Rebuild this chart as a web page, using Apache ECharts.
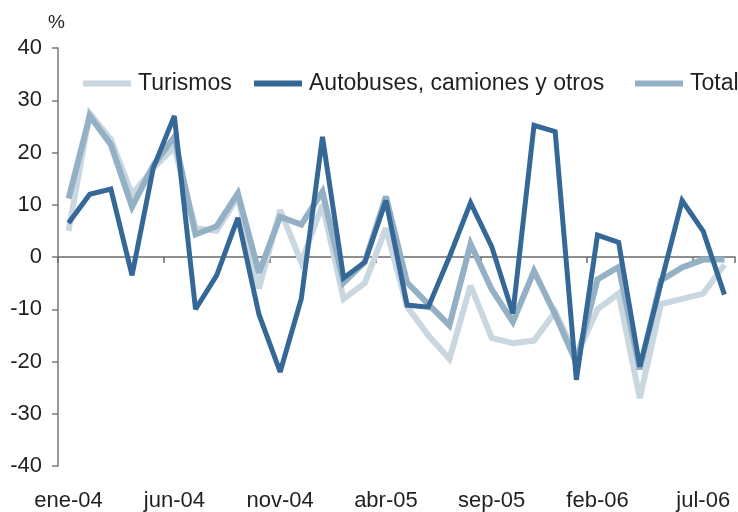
<!DOCTYPE html>
<html>
<head>
<meta charset="utf-8">
<script src="https://cdn.jsdelivr.net/npm/echarts@6/dist/echarts.min.js"></script>
<style>
  html, body { margin: 0; padding: 0; background: #fff; }
  #chart { width: 738px; height: 512px; }
</style>
</head>
<body>
<div id="chart"></div>
<script>
// Monthly categories, ene-04 .. ago-06
const months = [
  'ene-04','feb-04','mar-04','abr-04','may-04','jun-04','jul-04','ago-04','sep-04','oct-04','nov-04','dic-04',
  'ene-05','feb-05','mar-05','abr-05','may-05','jun-05','jul-05','ago-05','sep-05','oct-05','nov-05','dic-05',
  'ene-06','feb-06','mar-06','abr-06','may-06','jun-06','jul-06','ago-06'
];

// Year-on-year change, %
const turismos = [
  5, 27.5, 22.5, 12, 17, 21, 5.5, 5, 11.5, -6, 9, -1,
  10, -8, -5, 5.5, -9.5, -15, -19.5, -5.5, -15.5, -16.5, -16, -10.5,
  -19, -10, -7, -27, -9, -8, -7, -1.5
];
const autobuses = [
  6.5, 12, 13, -3.5, 17, 27, -10, -3.5, 7.5, -11, -22, -8,
  23, -4, -1, 10.8, -9.2, -9.6, 0, 10.4, 2, -10.8, 25.2, 24,
  -23.5, 4.2, 2.8, -21, -5, 10.8, 4.9, -7.2
];
const total = [
  11.2, 27, 21.5, 9.6, 17.5, 23, 4.3, 5.9, 12.2, -3, 7.7, 6.2,
  12.5, -4.9, -1, 11.6, -4.9, -9, -13.1, 2.5, -6.2, -12.4, -2.7, -11,
  -20.2, -4.3, -1.9, -21.5, -4.5, -2, -0.5, -0.5
];

const seriesNames = ['Turismos', 'Autobuses, camiones y otros', 'Total'];
const yTicks = { min: -40, max: 40, step: 10 };

const txt = '#231f20';
const font = 'Liberation Sans, Arial, Helvetica, sans-serif';
const colors = { light: '#c9d7e1', mid: '#94b0c5', dark: '#356897' };

const chart = echarts.init(document.getElementById('chart'), null, { renderer: 'canvas' });

function legendAt(name, left) {
  return {
    data: [name],
    left: left,
    top: 72,
    padding: 0,
    icon: 'rect',
    itemWidth: 48,
    itemHeight: 6,
    textStyle: { fontFamily: font, fontSize: 23, color: txt, padding: [0, 0, 0, 2] }
  };
}

chart.setOption({
  animation: false,
  backgroundColor: '#ffffff',
  textStyle: { fontFamily: font, color: txt },
  grid: { left: 58, right: 3, top: 48, bottom: 45, containLabel: false },
  legend: [
    legendAt(seriesNames[0], 83),
    legendAt(seriesNames[1], 254),
    legendAt(seriesNames[2], 635)
  ],
  graphic: [{
    type: 'text',
    left: 48,
    top: 13,
    style: { text: '%', font: '19px ' + font, fill: txt }
  }],
  xAxis: [
    {
      // category labels along the bottom
      type: 'category',
      data: months,
      boundaryGap: true,
      position: 'bottom',
      axisLine: { show: false, onZero: false },
      axisTick: { show: false },
      axisLabel: {
        interval: 4,
        margin: 24,
        fontSize: 22,
        fontFamily: font,
        color: txt
      },
      splitLine: { show: false }
    },
    {
      // zero line with band ticks
      type: 'category',
      data: months,
      boundaryGap: true,
      position: 'bottom',
      axisLine: { show: true, onZero: true, lineStyle: { color: '#6b6b6b', width: 1.5 } },
      axisTick: { show: true, interval: 4, length: 6, inside: false, lineStyle: { color: '#6b6b6b', width: 1.5 } },
      axisLabel: { show: false },
      splitLine: { show: false }
    }
  ],
  yAxis: {
    type: 'value',
    min: yTicks.min,
    max: yTicks.max,
    interval: yTicks.step,
    axisLine: { show: true, lineStyle: { color: '#7a7a7a', width: 1.5 } },
    axisTick: { show: true, length: 6, lineStyle: { color: '#7a7a7a', width: 1.5 } },
    axisLabel: { margin: 16, fontSize: 22, fontFamily: font, color: txt },
    splitLine: { show: false }
  },
  series: [
    {
      name: seriesNames[0],
      type: 'line',
      data: turismos,
      symbol: 'none',
      lineStyle: { color: colors.light, width: 6, join: 'miter', miterLimit: 3 },
      itemStyle: { color: colors.light },
      z: 2
    },
    {
      name: seriesNames[2],
      type: 'line',
      data: total,
      symbol: 'none',
      lineStyle: { color: colors.mid, width: 6, join: 'miter', miterLimit: 3 },
      itemStyle: { color: colors.mid },
      z: 3
    },
    {
      name: seriesNames[1],
      type: 'line',
      data: autobuses,
      symbol: 'none',
      lineStyle: { color: colors.dark, width: 5, join: 'miter', miterLimit: 3 },
      itemStyle: { color: colors.dark },
      z: 4
    }
  ]
});
</script>
</body>
</html>
